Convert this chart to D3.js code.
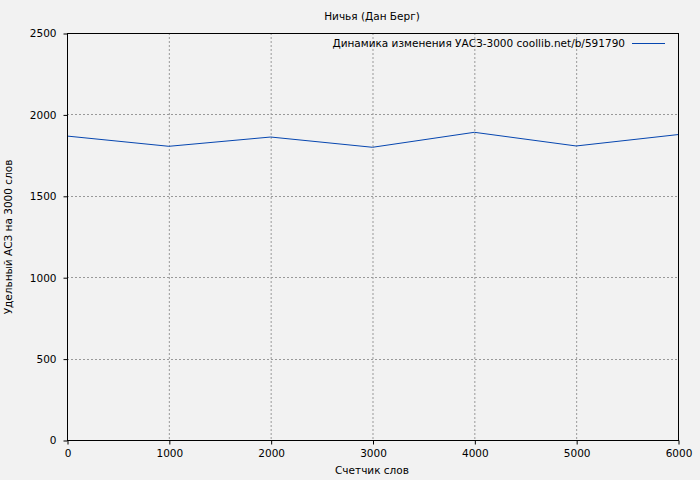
<!DOCTYPE html>
<html><head><meta charset="utf-8">
<script src="https://cdn.jsdelivr.net/npm/d3@7"></script>
<style>body{margin:0;background:#f2f2f2}svg{display:block;font-family:"DejaVu Sans",sans-serif}</style>
</head><body>
<svg id="c" width="700" height="480"></svg>
<script>
const xValues = [0, 1000, 2000, 3000, 4000, 5000, 6000];
const yValues = [1867, 1804, 1861, 1798, 1890, 1806, 1876];
const xTicks = [0, 1000, 2000, 3000, 4000, 5000, 6000];
const yTicks = [0, 500, 1000, 1500, 2000, 2500];
const title = "Ничья (Дан Берг)";
const legendLabel = "Динамика изменения УАСЗ-3000 coollib.net/b/591790";
const xLabel = "Счетчик слов";
const yLabel = "Удельный АСЗ на 3000 слов";

const FS = 10.5;
const svg = d3.select("#c");
const L = 67, R = 678, T = 33, B = 440;
const x = d3.scaleLinear().domain([0, 6000]).range([L, R]);
const y = d3.scaleLinear().domain([0, 2500]).range([B, T]);
svg.append("rect").attr("width", 700).attr("height", 480).attr("fill", "#f2f2f2");

const g = svg.append("g");
g.selectAll(".gx").data(xTicks.slice(1, -1)).join("line")
  .attr("x1", d => x(d) + 0.5).attr("x2", d => x(d) + 0.5).attr("y1", T).attr("y2", B)
  .attr("stroke", "#999").attr("stroke-dasharray", "2,2");
g.selectAll(".gy").data(yTicks.slice(1, -1)).join("line")
  .attr("y1", d => Math.round(y(d)) + 0.5).attr("y2", d => Math.round(y(d)) + 0.5).attr("x1", L).attr("x2", R)
  .attr("stroke", "#999").attr("stroke-dasharray", "2,2");

const line = d3.line().x((d, i) => x(xValues[i])).y(d => y(d));
svg.append("path").datum(yValues).attr("d", line).attr("fill", "none")
  .attr("stroke", "#0646b0").attr("stroke-width", 1);

svg.append("rect").attr("x", L + 0.5).attr("y", T + 0.5).attr("width", R - L).attr("height", B - T)
  .attr("fill", "none").attr("stroke", "#000");

const xa = svg.append("g").attr("transform", `translate(0.5,${B + 0.5})`)
  .call(d3.axisBottom(x).tickValues(xTicks).tickSize(4).tickFormat(d3.format("d")));
const ya = svg.append("g").attr("transform", `translate(${L + 0.5},0.5)`)
  .call(d3.axisLeft(y).tickValues(yTicks).tickSize(4).tickFormat(d3.format("d")));
[xa, ya].forEach(a => {
  a.select(".domain").remove();
  a.selectAll("text").attr("font-family", "DejaVu Sans").attr("font-size", FS).attr("fill", "#000");
  a.selectAll("line").attr("stroke", "#000");
});
xa.selectAll("text").attr("y", 9).attr("dy", "0.71em");
ya.selectAll("text").attr("x", -11);

svg.append("text").attr("x", 372).attr("y", 20).attr("text-anchor", "middle")
  .attr("font-size", FS).text(title);
svg.append("text").attr("x", 372).attr("y", 474).attr("text-anchor", "middle")
  .attr("font-size", FS).text(xLabel);
svg.append("text").attr("transform", "translate(12,237) rotate(-90)").attr("text-anchor", "middle")
  .attr("font-size", FS).text(yLabel);
svg.append("text").attr("x", 625).attr("y", 47).attr("text-anchor", "end")
  .attr("font-size", FS).text(legendLabel);
svg.append("line").attr("x1", 632).attr("x2", 665).attr("y1", 43.5).attr("y2", 43.5)
  .attr("stroke", "#0646b0");
</script>
</body></html>
